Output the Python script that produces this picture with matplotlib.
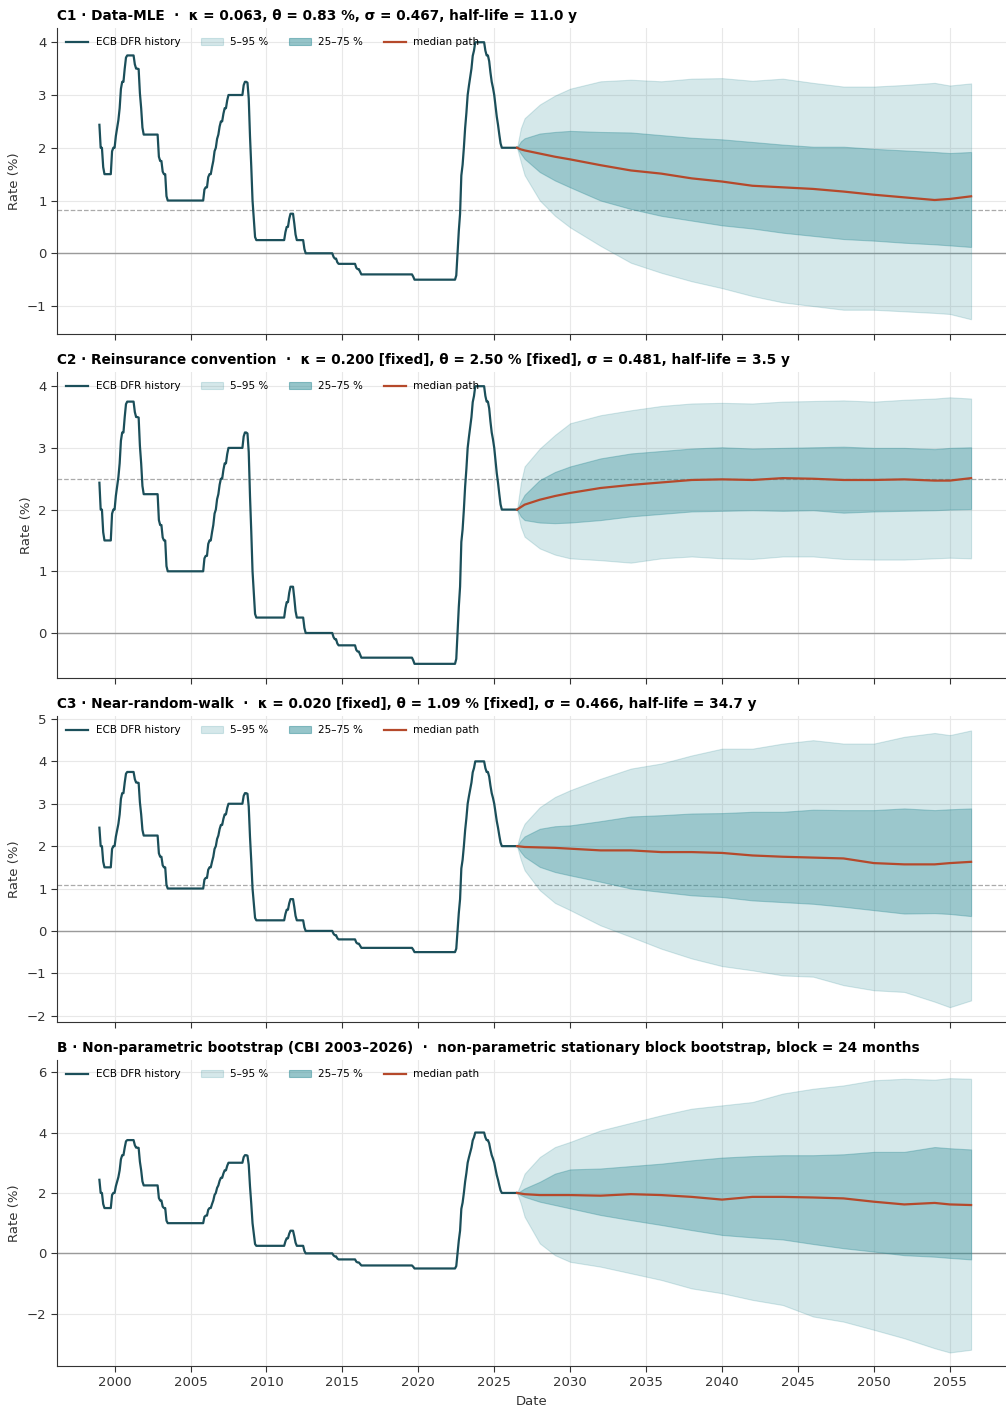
import numpy as np
import pandas as pd
import matplotlib
matplotlib.use("Agg")
import matplotlib.pyplot as plt
from matplotlib.patches import Patch
from matplotlib.lines import Line2D

# ECB deposit facility rate, change dates and new levels
dfr_dates = ['1999-01-01', '1999-01-04', '1999-01-22', '1999-04-09', '1999-11-05',
             '2000-02-04', '2000-03-17', '2000-04-28', '2000-06-09', '2000-09-01',
             '2000-10-06', '2001-05-11', '2001-08-31', '2001-09-18', '2001-11-09',
             '2002-12-06', '2003-03-07', '2003-06-06', '2005-12-06', '2006-03-08',
             '2006-06-15', '2006-08-09', '2006-10-11', '2006-12-13', '2007-03-14',
             '2007-06-13', '2008-07-09', '2008-10-08', '2008-10-09', '2008-11-12',
             '2008-12-10', '2009-01-21', '2009-03-11', '2009-04-08', '2011-04-13',
             '2011-07-13', '2011-11-09', '2011-12-14', '2012-07-11', '2014-06-11',
             '2014-09-10', '2015-12-09', '2016-03-16', '2019-09-18', '2022-07-27',
             '2022-09-14', '2022-11-02', '2022-12-21', '2023-02-08', '2023-03-22',
             '2023-05-10', '2023-06-21', '2023-08-02', '2023-09-20', '2024-06-12',
             '2024-09-18', '2024-10-23', '2024-12-18', '2025-02-05', '2025-03-12',
             '2025-04-23', '2025-06-11']
dfr_rates = [2.00, 2.75, 2.00, 1.50, 2.00, 2.25, 2.50, 2.75, 3.25, 3.50,
             3.75, 3.50, 3.25, 2.75, 2.25, 1.75, 1.50, 1.00, 1.25, 1.50,
             1.75, 2.00, 2.25, 2.50, 2.75, 3.00, 3.25, 2.75, 3.25, 2.75,
             2.00, 1.00, 0.50, 0.25, 0.50, 0.75, 0.50, 0.25, 0.00, -0.10,
             -0.20, -0.30, -0.40, -0.50, 0.00, 0.75, 1.50, 2.00, 2.50, 3.00,
             3.25, 3.50, 3.75, 4.00, 3.75, 3.50, 3.25, 3.00, 2.75, 2.50,
             2.25, 2.00]
hist_end = '2026-07-31'

# forecast knots (years)
fc_years = [2026.5, 2026.75, 2027, 2028, 2029, 2030, 2032, 2034, 2036, 2038, 2040,
            2042, 2044, 2046, 2048, 2050, 2052, 2054, 2055, 2056.4]

titles = [
    "C1 · Data-MLE  ·  κ = 0.063, θ = 0.83 %, σ = 0.467, half-life = 11.0 y",
    "C2 · Reinsurance convention  ·  κ = 0.200 [fixed], θ = 2.50 % [fixed], σ = 0.481, half-life = 3.5 y",
    "C3 · Near-random-walk  ·  κ = 0.020 [fixed], θ = 1.09 % [fixed], σ = 0.466, half-life = 34.7 y",
    "B · Non-parametric bootstrap (CBI 2003–2026)  ·  non-parametric stationary block bootstrap, block = 24 months",
]
thetas = [0.83, 2.50, 1.09, None]
ylims = [(-1.53, 4.27), (-0.73, 4.23), (-2.15, 5.07), (-3.73, 6.40)]

p05 = [
    [2.0, 1.73, 1.48, 1.00, 0.71, 0.49, 0.14, -0.18, -0.37, -0.53, -0.66, -0.81, -0.93, -1.00, -1.07, -1.07, -1.10, -1.13, -1.15, -1.25],
    [2.0, 1.72, 1.56, 1.37, 1.27, 1.21, 1.18, 1.14, 1.21, 1.24, 1.21, 1.20, 1.24, 1.24, 1.20, 1.19, 1.19, 1.21, 1.22, 1.21],
    [2.0, 1.68, 1.43, 0.96, 0.66, 0.49, 0.13, -0.14, -0.42, -0.65, -0.83, -0.93, -1.05, -1.08, -1.28, -1.40, -1.44, -1.67, -1.80, -1.64],
    [2.0, 1.65, 1.21, 0.33, -0.06, -0.28, -0.44, -0.66, -0.88, -1.16, -1.32, -1.54, -1.71, -2.09, -2.26, -2.53, -2.81, -3.14, -3.28, -3.19],
]
p25 = [
    [2.0, 1.89, 1.79, 1.54, 1.38, 1.25, 1.00, 0.84, 0.71, 0.62, 0.53, 0.47, 0.39, 0.33, 0.27, 0.24, 0.20, 0.17, 0.15, 0.12],
    [2.0, 1.89, 1.83, 1.79, 1.78, 1.79, 1.83, 1.89, 1.93, 1.97, 1.98, 1.99, 1.98, 1.99, 1.95, 1.97, 1.98, 1.99, 2.00, 2.01],
    [2.0, 1.86, 1.75, 1.51, 1.39, 1.31, 1.16, 1.00, 0.92, 0.84, 0.80, 0.72, 0.68, 0.64, 0.57, 0.49, 0.41, 0.42, 0.40, 0.35],
    [2.0, 1.93, 1.87, 1.71, 1.60, 1.49, 1.27, 1.10, 0.94, 0.77, 0.61, 0.53, 0.46, 0.31, 0.17, 0.06, -0.06, -0.11, -0.15, -0.20],
]
p50 = [
    [2.0, 1.97, 1.95, 1.89, 1.83, 1.78, 1.67, 1.57, 1.51, 1.42, 1.36, 1.28, 1.25, 1.22, 1.17, 1.11, 1.06, 1.01, 1.03, 1.08],
    [2.0, 2.04, 2.08, 2.16, 2.22, 2.27, 2.35, 2.40, 2.44, 2.48, 2.49, 2.48, 2.51, 2.50, 2.48, 2.48, 2.49, 2.47, 2.47, 2.51],
    [2.0, 1.99, 1.98, 1.97, 1.96, 1.94, 1.90, 1.90, 1.86, 1.86, 1.84, 1.78, 1.75, 1.73, 1.71, 1.60, 1.57, 1.57, 1.60, 1.63],
    [2.0, 1.98, 1.96, 1.93, 1.93, 1.93, 1.91, 1.96, 1.93, 1.87, 1.78, 1.87, 1.87, 1.85, 1.82, 1.71, 1.62, 1.67, 1.62, 1.60],
]
p75 = [
    [2.0, 2.12, 2.18, 2.27, 2.30, 2.32, 2.30, 2.29, 2.24, 2.19, 2.16, 2.11, 2.06, 2.02, 2.02, 1.98, 1.95, 1.92, 1.90, 1.92],
    [2.0, 2.13, 2.24, 2.48, 2.61, 2.70, 2.83, 2.91, 2.95, 2.99, 3.01, 2.99, 3.00, 3.01, 3.02, 3.00, 3.00, 2.98, 3.00, 3.01],
    [2.0, 2.13, 2.23, 2.41, 2.47, 2.49, 2.59, 2.70, 2.73, 2.77, 2.78, 2.81, 2.81, 2.86, 2.85, 2.85, 2.89, 2.85, 2.87, 2.89],
    [2.0, 2.07, 2.15, 2.37, 2.64, 2.78, 2.81, 2.89, 2.97, 3.08, 3.17, 3.22, 3.25, 3.25, 3.28, 3.36, 3.36, 3.52, 3.48, 3.44],
]
p95 = [
    [2.0, 2.37, 2.56, 2.82, 2.99, 3.12, 3.26, 3.29, 3.26, 3.31, 3.32, 3.27, 3.31, 3.23, 3.16, 3.16, 3.19, 3.23, 3.18, 3.22],
    [2.0, 2.43, 2.70, 2.99, 3.21, 3.40, 3.53, 3.61, 3.68, 3.72, 3.73, 3.72, 3.75, 3.76, 3.77, 3.75, 3.78, 3.80, 3.82, 3.80],
    [2.0, 2.33, 2.53, 2.92, 3.16, 3.32, 3.59, 3.83, 3.95, 4.14, 4.30, 4.30, 4.42, 4.50, 4.42, 4.42, 4.58, 4.67, 4.62, 4.73],
    [2.0, 2.30, 2.64, 3.19, 3.52, 3.69, 4.07, 4.32, 4.57, 4.79, 4.90, 5.01, 5.29, 5.45, 5.56, 5.73, 5.78, 5.75, 5.80, 5.78],
]

# monthly averages of the daily policy rate
days = pd.date_range(dfr_dates[0], hist_end, freq='D')
idx = np.searchsorted(pd.to_datetime(dfr_dates).values, days.values, side='right') - 1
daily = pd.Series(np.array(dfr_rates)[idx], index=days)
monthly = daily.resample('MS').mean()
hx = monthly.index.year + (monthly.index.month - 1) / 12
hy = monthly.values

HIST = '#1b4f5a'
BAND = '#2f8c96'
MED = '#b5492b'

fig = plt.figure(figsize=(10.06, 14.07), dpi=100)
bottoms = [0.7626, 0.5181, 0.2736, 0.0291]
axes = []
for i in range(4):
    ax = fig.add_axes([0.0567, bottoms[i], 0.9433, 0.2175])
    axes.append(ax)
    ax.grid(True, color='#e8e8e8', lw=0.8)
    ax.set_axisbelow(True)
    ax.axhline(0, color='#9a9a9a', lw=1.0, zorder=1)
    if thetas[i] is not None:
        ax.axhline(thetas[i], color='#aaaaaa', lw=0.9, ls='--', zorder=1)
    ax.fill_between(fc_years, p05[i], p95[i], facecolor=BAND, alpha=0.2,
                    edgecolor=BAND, lw=0.8, zorder=2)
    ax.fill_between(fc_years, p25[i], p75[i], facecolor=BAND, alpha=0.35,
                    edgecolor=BAND, lw=0.8, zorder=3)
    ax.plot(hx, hy, color=HIST, lw=1.6, zorder=4)
    ax.plot(fc_years, p50[i], color=MED, lw=1.6, zorder=5)
    ax.set_xlim(1996.21, 2058.7)
    ax.set_ylim(*ylims[i])
    ax.set_xticks(range(2000, 2060, 5))
    ax.spines['top'].set_visible(False)
    ax.spines['right'].set_visible(False)
    for s in ('left', 'bottom'):
        ax.spines[s].set_color('#333333')
    ax.tick_params(labelsize=9.5, colors='#333333', length=4)
    ax.set_ylabel('Rate (%)', fontsize=9.5, color='#333333')
    ax.set_title(titles[i], loc='left', fontsize=9.85, fontweight='bold', pad=6)
    handles = [Line2D([], [], color=HIST, lw=1.6),
               Patch(facecolor=BAND, alpha=0.2, edgecolor=BAND, lw=0.8),
               Patch(facecolor=BAND, alpha=0.5, edgecolor=BAND, lw=0.8),
               Line2D([], [], color=MED, lw=1.6)]
    ax.legend(handles, ['ECB DFR history', '5–95 %', '25–75 %', 'median path'],
              loc='upper left', ncol=4, frameon=False, fontsize=7.5,
              columnspacing=2.0, handlelength=2.1, handletextpad=0.7)
    if i < 3:
        ax.tick_params(labelbottom=False)

axes[3].set_xlabel('Date', fontsize=9.5, color='#333333')

fig.savefig('out.png', dpi=100)
